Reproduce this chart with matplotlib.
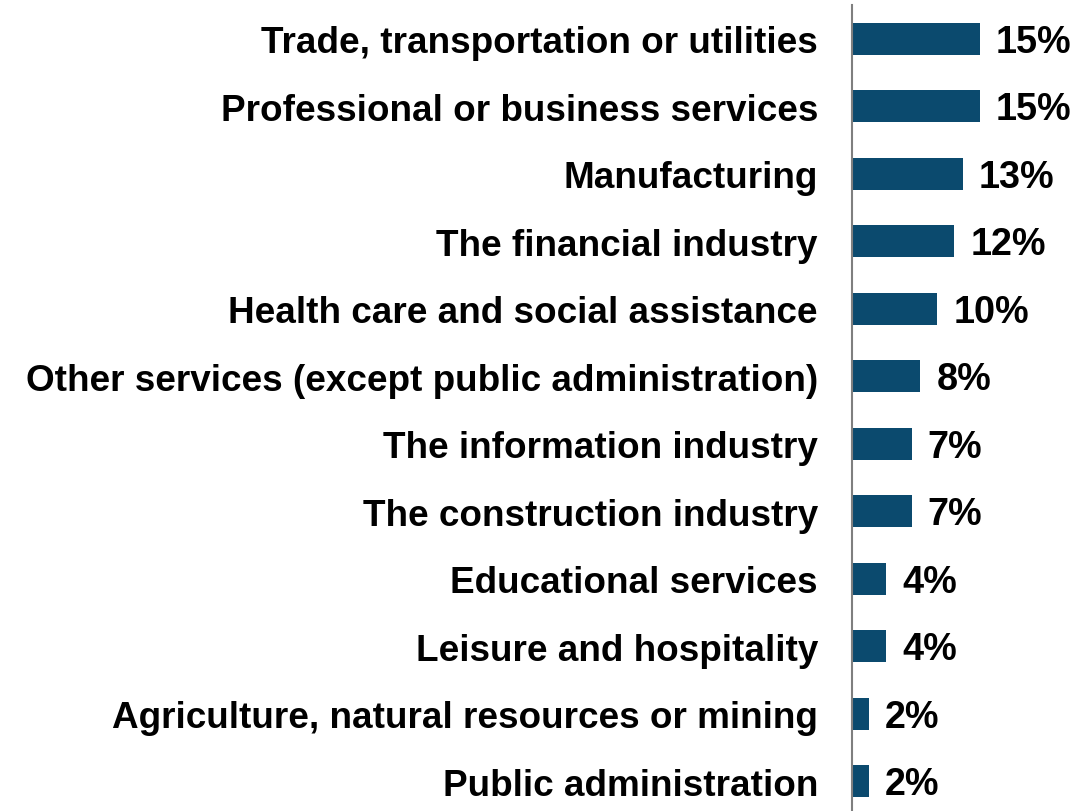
import matplotlib.pyplot as plt
from matplotlib import font_manager as fm

# share of respondents by industry
industries = [
    "Trade, transportation or utilities",
    "Professional or business services",
    "Manufacturing",
    "The financial industry",
    "Health care and social assistance",
    "Other services (except public administration)",
    "The information industry",
    "The construction industry",
    "Educational services",
    "Leisure and hospitality",
    "Agriculture, natural resources or mining",
    "Public administration",
]
shares = [15, 15, 13, 12, 10, 8, 7, 7, 4, 4, 2, 2]

# pick the regular-width bold Liberation Sans, not the Narrow one
bold_file = None
for f in fm.fontManager.ttflist:
    if f.name == 'Liberation Sans' and f.weight in (700, 'bold') and f.style == 'normal' \
            and 'Narrow' not in f.fname:
        bold_file = f.fname
        break
if bold_file:
    lab_font = fm.FontProperties(fname=bold_file, size=26.6)
    val_font = fm.FontProperties(fname=bold_file, size=27.2)
else:
    lab_font = fm.FontProperties(family='DejaVu Sans', weight='bold', size=23)
    val_font = fm.FontProperties(family='DejaVu Sans', weight='bold', size=24)

fig = plt.figure(figsize=(10.77, 8.12), dpi=100)
ax = fig.add_axes([852 / 1077, -4 / 812, 222 / 1077, 810 / 812])

pos = list(range(len(industries)))
ax.barh(pos, shares, height=0.47, color='#0B4A6E')
ax.set_ylim(len(industries) - 0.5, -0.5)
ax.set_xlim(0, 26)

ax.set_yticks(pos)
ax.set_yticklabels(industries, fontproperties=lab_font)
ax.tick_params(axis='y', length=0, pad=24.5)
ax.set_xticks([])

for s in ['top', 'right', 'bottom']:
    ax.spines[s].set_visible(False)
ax.spines['left'].set_color('#7f7f7f')
ax.spines['left'].set_linewidth(1.5)

for p, v in zip(pos, shares):
    ax.annotate(f"{v}%", (v, p), xytext=(16, -3), textcoords='offset pixels',
                va='center', ha='left', fontproperties=val_font)

fig.savefig('out.png', dpi=100)
